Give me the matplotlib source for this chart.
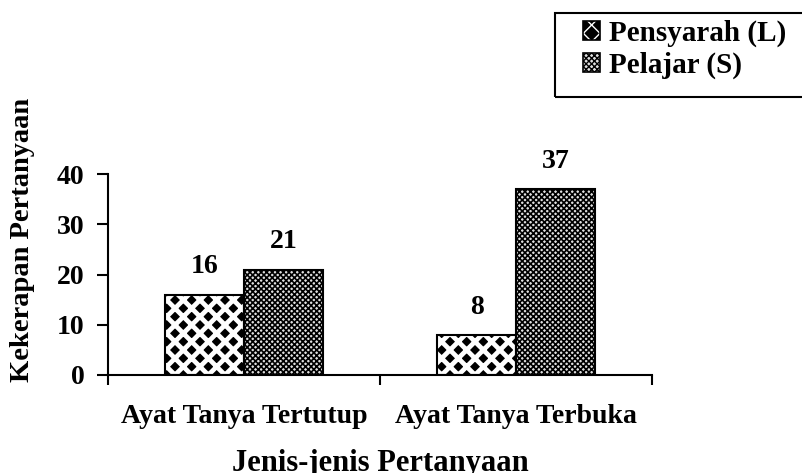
import numpy as np
import matplotlib.pyplot as plt
from matplotlib.patches import Patch, Rectangle

# data
kategori = ['Ayat Tanya Tertutup', 'Ayat Tanya Terbuka']
pensyarah = [16, 8]
pelajar = [21, 37]
siri = ['Pensyarah (L)', 'Pelajar (S)']
yticks = [0, 10, 20, 30, 40]

plt.rcParams['font.family'] = ['Liberation Serif', 'DejaVu Serif']
plt.rcParams['font.weight'] = 'bold'

fig = plt.figure(figsize=(8.03, 4.73), dpi=100)
ax = fig.add_axes([0.1345, 0.2072, 0.812 - 0.1345, 0.632 - 0.2072])

x = np.arange(len(kategori))
w = 0.29
with plt.rc_context({'hatch.linewidth': 3.4}):
    b1 = ax.bar(x - w / 2, pensyarah, w, facecolor='black', edgecolor='white',
                hatch='xx', linewidth=0)
    h1 = Patch(facecolor='black', edgecolor='white', hatch='xx', linewidth=0)
with plt.rc_context({'hatch.linewidth': 1.2}):
    b2 = ax.bar(x + w / 2, pelajar, w, facecolor='#e0e0e0', edgecolor='black',
                hatch='xxxxxx', linewidth=0)
    h2 = Patch(facecolor='#e0e0e0', edgecolor='black', hatch='xxxxxx', linewidth=0)
# black outline
for b in list(b1) + list(b2):
    ax.add_patch(Rectangle(b.get_xy(), b.get_width(), b.get_height(),
                           fill=False, edgecolor='black', linewidth=1.5))

for xi, v in zip(x - w / 2, pensyarah):
    ax.annotate(str(v), (xi, v), xytext=(0, 11), textcoords='offset points',
                ha='center', va='bottom', fontsize=20, fontweight='bold')
for xi, v in zip(x + w / 2, pelajar):
    ax.annotate(str(v), (xi, v), xytext=(0, 11), textcoords='offset points',
                ha='center', va='bottom', fontsize=20, fontweight='bold')

ax.set_xlim(-0.5, 1.5)
ax.set_ylim(0, 40)
ax.set_yticks(yticks)
ax.set_xticks(x)
ax.set_xticklabels(kategori, fontsize=20, fontweight='bold')
ax.set_xticks([-0.5, 0.5, 1.5], minor=True)
ax.tick_params(axis='x', which='major', length=0, pad=21)
ax.tick_params(axis='x', which='minor', length=7, width=1.5, direction='out')
ax.tick_params(axis='y', length=8, width=1.5, labelsize=20, pad=9)
for t in ax.get_yticklabels():
    t.set_fontweight('bold')
ax.spines['top'].set_visible(False)
ax.spines['right'].set_visible(False)
ax.spines['left'].set_linewidth(1.5)
ax.spines['bottom'].set_linewidth(1.5)

ax.set_xlabel('Jenis-jenis Pertanyaan', fontsize=22, fontweight='bold', labelpad=14)
fig.text(0.028, 0.493, 'Kekerapan Pertanyaan', rotation=90, ha='center', va='center',
         fontsize=20.5, fontweight='bold')

o1 = Patch(fill=False, edgecolor='black', linewidth=1.2)
o2 = Patch(fill=False, edgecolor='black', linewidth=1.2)
leg = fig.legend([(h1, o1), (h2, o2)], siri, loc='upper left',
                 bbox_to_anchor=(583 / 803, 1 - 20 / 473),
                 prop={'size': 21, 'weight': 'bold'}, frameon=False,
                 handlelength=0.6, handleheight=0.6, handletextpad=0.3,
                 borderpad=0, labelspacing=0.15, borderaxespad=0)
# legend box
fig.add_artist(Rectangle((555 / 803, 1 - 97 / 473), 0.4, 84 / 473,
                         transform=fig.transFigure, fill=False,
                         edgecolor='black', linewidth=1.5))

plt.savefig('out.png', dpi=100)
